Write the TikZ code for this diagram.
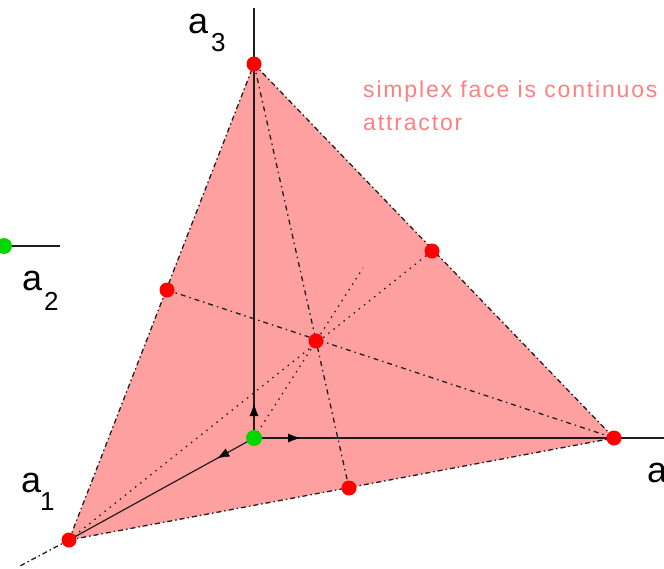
\documentclass[tikz,border=0pt]{standalone}
\usepackage{fontspec}
\setmainfont{Liberation Sans}
\newfontfamily\notefont[LetterSpace=8]{Liberation Sans}
\usetikzlibrary{arrows.meta,decorations.markings,calc}
\definecolor{face}{RGB}{255,160,160}
\definecolor{txt}{RGB}{255,128,128}
\definecolor{gdot}{RGB}{0,215,0}
\definecolor{ink}{RGB}{30,30,30}
\tikzset{
  edgeline/.style={ink,line width=1.3pt,dash pattern=on 5pt off 3pt on 1.5pt off 3pt},
  dashline/.style={ink,line width=1.3pt,dash pattern=on 5pt off 4pt on 1.5pt off 4pt},
  dotline/.style={ink,line width=1.3pt,dash pattern=on 1.5pt off 5pt},
  axisline/.style={ink,line width=1.5pt},
  rdot/.style={circle,fill=red,draw=none,minimum size=15pt,inner sep=0pt},
  gdotst/.style={circle,fill=gdot,draw=none,minimum size=16pt,inner sep=0pt},
  lab/.style={inner sep=0pt,anchor=base west,font=\fontsize{36}{40}\selectfont},
  sublab/.style={inner sep=0pt,anchor=base west,font=\fontsize{26}{30}\selectfont},
  note/.style={inner sep=0pt,anchor=base west,text=txt,font=\notefont\fontsize{23}{26}\selectfont},
  arrowmark/.style={postaction={decorate,decoration={markings,
      mark=at position #1 with {\arrow{Latex[length=12pt,width=9pt]}}}}}
}
\begin{document}
\begin{tikzpicture}[x=1pt,y=-1pt]
\useasboundingbox (0,0) rectangle (664,568);
% key points
\coordinate (A1) at (69,540);
\coordinate (A3) at (254,64);
\coordinate (A2) at (614,438);
\coordinate (O) at (254,438);
\coordinate (M13) at (167,290);
\coordinate (M32) at (432,251);
\coordinate (M12) at (349,488);
\coordinate (C) at (316,341);
\coordinate (D) at (363,268);
\coordinate (Atop) at (254,8);
\coordinate (Aright) at (664,438);
\coordinate (Alow) at (20,566);
\coordinate (G2) at (4,246);
\coordinate (G2e) at (60,246);
% face
\fill[face] (A1) -- (A3) -- (A2) -- cycle;
% edges
\draw[edgeline] (A1) -- (A3);
\draw[edgeline] (A3) -- (A2);
\draw[edgeline] (A1) -- (A2);
% medians and diagonal
\draw[dashline] (A3) -- (M12);
\draw[dashline] (M13) -- (A2);
\draw[dotline] (A1) -- (M32);
\draw[dotline] (O) -- (D);
% axes
\draw[axisline] (O) -- (Atop);
\draw[axisline] (O) -- (Aright);
\draw[ink,line width=1.2pt] (O) -- (A1);
\draw[edgeline] (A1) -- (Alow);
\draw[axisline] (G2) -- (G2e);
% axis arrows
\path[arrowmark=34pt] (O) -- (Atop);
\path[arrowmark=46pt] (O) -- (Aright);
\path[arrowmark=42pt] (O) -- (A1);
% dots
\node[rdot] (pA1) at (A1) {};
\node[rdot] (pA3) at (A3) {};
\node[rdot] (pA2) at (A2) {};
\node[rdot] (pM13) at (M13) {};
\node[rdot] (pM32) at (M32) {};
\node[rdot] (pM12) at (M12) {};
\node[rdot] (pC) at (C) {};
\node[gdotst] (pO) at (O) {};
\node[gdotst] (pG2) at (G2) {};
% labels
\node[lab] (la3) at (188,33) {a};
\node[sublab] (sa3) at (211,51) {3};
\node[lab] (la2) at (22,290) {a};
\node[sublab] (sa2) at (44,310) {2};
\node[lab] (la1) at (21,492) {a};
\node[sublab] (sa1) at (40,510) {1};
\node[lab] (la0) at (647,482) {a};
% note
\node[note] (n1) at (363,97) {simplex face is continuos};
\node[note] (n2) at (363,130) {attractor};
\end{tikzpicture}
\end{document}
